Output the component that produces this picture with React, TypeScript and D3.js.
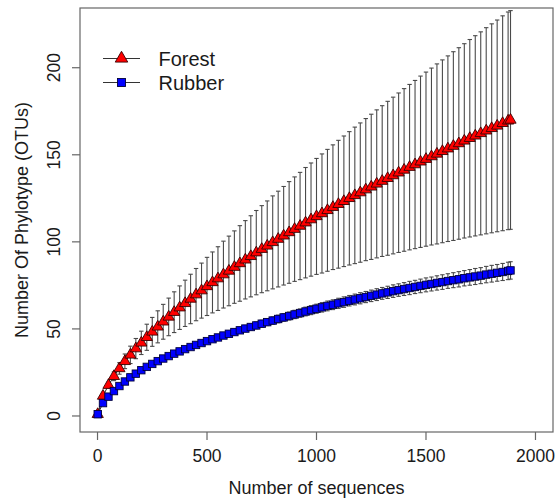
import React from "react";
import * as d3 from "d3";

const seqCounts = [
  1, 25, 50, 75, 100, 125, 150, 175, 200, 225, 250, 275, 300, 325, 350, 375, 400, 425, 450, 475,
  500, 525, 550, 575, 600, 625, 650, 675, 700, 725, 750, 775, 800, 825, 850, 875, 900, 925, 950, 975,
  1000, 1025, 1050, 1075, 1100, 1125, 1150, 1175, 1200, 1225, 1250, 1275, 1300, 1325, 1350, 1375,
  1400, 1425, 1450, 1475, 1500, 1525, 1550, 1575, 1600, 1625, 1650, 1675, 1700, 1725, 1750, 1775,
  1800, 1825, 1850, 1875, 1886,
];

const forestMean = [
  1, 11.5, 17.7, 22.8, 27.3, 31.4, 35.1, 38.7, 42.0, 45.2, 48.3, 51.2, 54.1, 56.9, 59.6, 62.2, 64.7,
  67.2, 69.7, 72.0, 74.4, 76.7, 78.9, 81.2, 83.3, 85.5, 87.6, 89.7, 91.7, 93.8, 95.8, 97.7, 99.7,
  101.6, 103.5, 105.4, 107.3, 109.1, 111.0, 112.8, 114.6, 116.3, 118.1, 119.9, 121.6, 123.3, 125.0,
  126.7, 128.3, 130.0, 131.6, 133.3, 134.9, 136.5, 138.1, 139.7, 141.3, 142.9, 144.4, 146.0, 147.5,
  149.0, 150.5, 152.0, 153.5, 155.0, 156.5, 158.0, 159.5, 160.9, 162.3, 163.8, 165.2, 166.6, 168.1,
  169.5, 170.0,
];

const forestSd = [
  0, 0.8, 1.7, 2.5, 3.3, 4.2, 5.0, 5.8, 6.7, 7.5, 8.3, 9.2, 10.0, 10.8, 11.7, 12.5, 13.3, 14.2, 15.0,
  15.8, 16.7, 17.5, 18.3, 19.2, 20.0, 20.8, 21.7, 22.5, 23.3, 24.2, 25.0, 25.8, 26.7, 27.5, 28.3, 29.2,
  30.0, 30.8, 31.7, 32.5, 33.3, 34.2, 35.0, 35.8, 36.7, 37.5, 38.3, 39.2, 40.0, 40.8, 41.7, 42.5, 43.3,
  44.2, 45.0, 45.8, 46.7, 47.5, 48.3, 49.2, 50.0, 50.8, 51.7, 52.5, 53.3, 54.2, 55.0, 55.8, 56.7, 57.5,
  58.3, 59.2, 60.0, 60.8, 61.7, 62.5, 62.8,
];

const rubberMean = [
  1, 7.4, 11.1, 14.3, 17.2, 19.8, 22.2, 24.3, 26.3, 28.2, 29.9, 31.5, 33.0, 34.4, 35.8, 37.1, 38.4,
  39.6, 40.8, 41.9, 43.0, 44.1, 45.1, 46.2, 47.2, 48.2, 49.2, 50.2, 51.1, 52.0, 53.0, 53.9, 54.8, 55.7,
  56.6, 57.4, 58.3, 59.1, 60.0, 60.8, 61.6, 62.4, 63.2, 63.9, 64.7, 65.4, 66.2, 66.9, 67.6, 68.3, 69.0,
  69.7, 70.4, 71.0, 71.7, 72.3, 72.9, 73.5, 74.1, 74.7, 75.3, 75.8, 76.4, 76.9, 77.5, 78.0, 78.5, 79.1,
  79.6, 80.1, 80.6, 81.2, 81.7, 82.2, 82.7, 83.3, 83.6,
];

const rubberSd = [
  0, 0.1, 0.1, 0.2, 0.3, 0.3, 0.4, 0.5, 0.5, 0.6, 0.7, 0.7, 0.8, 0.9, 0.9, 1.0, 1.1, 1.1, 1.2, 1.3,
  1.3, 1.4, 1.5, 1.5, 1.6, 1.7, 1.7, 1.8, 1.8, 1.9, 2.0, 2.0, 2.1, 2.2, 2.2, 2.3, 2.4, 2.4, 2.5, 2.6,
  2.6, 2.7, 2.8, 2.8, 2.9, 3.0, 3.0, 3.1, 3.2, 3.2, 3.3, 3.4, 3.4, 3.5, 3.6, 3.6, 3.7, 3.8, 3.8, 3.9,
  4.0, 4.0, 4.1, 4.2, 4.2, 4.3, 4.4, 4.4, 4.5, 4.6, 4.6, 4.7, 4.8, 4.8, 4.9, 5.0, 5.0,
];

const xTicks = [0, 500, 1000, 1500, 2000];
const yTicks = [0, 50, 100, 150, 200];
const seriesNames = ["Forest", "Rubber"];
const xTitle = "Number of sequences";
const yTitle = "Number Of Phylotype (OTUs)";

const FONT = "'Liberation Sans', Arial, Helvetica, sans-serif";

function triPath(cx: number, cy: number, w: number) {
  const r = w / Math.sqrt(3);
  return `M${cx},${cy - r}L${cx + w / 2},${cy + r / 2}L${cx - w / 2},${cy + r / 2}Z`;
}

export default function App() {
  const W = 556;
  const H = 498;
  const left = 80, right = 553, top = 8, bottom = 432;
  const x = d3.scaleLinear().domain([-80, 2080]).range([left, right]);
  const y = d3.scaleLinear().domain([-9.2, 234.3]).range([bottom, top]);

  const n = Math.min(seqCounts.length, forestMean.length, rubberMean.length);
  const idx = d3.range(n);

  const forestLine = d3.line<number>().x((i) => x(seqCounts[i])).y((i) => y(forestMean[i]))(idx) || "";
  const rubberLine = d3.line<number>().x((i) => x(seqCounts[i])).y((i) => y(rubberMean[i]))(idx) || "";

  const cap = 2.2;
  const barColor = "#4a4a4a";

  const errBars = (mean: number[], sd: number[], key: string) =>
    idx.map((i) => {
      const cx = x(seqCounts[i]);
      const y0 = y(mean[i] - (sd[i] || 0));
      const y1 = y(mean[i] + (sd[i] || 0));
      return (
        <g key={key + i} stroke={barColor} strokeWidth={1.1} fill="none">
          <line x1={cx} x2={cx} y1={y0} y2={y1} />
          <line x1={cx - cap} x2={cx + cap} y1={y0} y2={y0} />
          <line x1={cx - cap} x2={cx + cap} y1={y1} y2={y1} />
        </g>
      );
    });

  const sq = 7.4;
  const triW = 11.2;

  return (
    <svg
      width={W}
      height={H}
      style={{ position: "fixed", left: 0, top: 0, background: "#fff" }}
      fontFamily={FONT}
    >
      <rect x={0} y={0} width={W} height={H} fill="#fff" />

      {/* Forest */}
      <path d={forestLine} fill="none" stroke="#222" strokeWidth={1} />
      {errBars(forestMean, forestSd, "fe")}
      {idx.map((i) => (
        <path
          key={"ft" + i}
          d={triPath(x(seqCounts[i]), y(forestMean[i]), triW)}
          fill="#ff0000"
          stroke="#3a0000"
          strokeWidth={0.9}
        />
      ))}

      {/* Rubber */}
      <path d={rubberLine} fill="none" stroke="#222" strokeWidth={1} />
      {errBars(rubberMean, rubberSd, "re")}
      {idx.map((i) => (
        <rect
          key={"rs" + i}
          x={x(seqCounts[i]) - sq / 2}
          y={y(rubberMean[i]) - sq / 2}
          width={sq}
          height={sq}
          fill="#0000ff"
          stroke="#00003a"
          strokeWidth={0.9}
        />
      ))}

      {/* Box */}
      <rect x={left} y={top} width={right - left} height={bottom - top} fill="none" stroke="#666" strokeWidth={1.2} />

      {/* X axis */}
      {xTicks.map((t) => (
        <g key={"xt" + t}>
          <line x1={x(t)} x2={x(t)} y1={bottom} y2={bottom + 8} stroke="#666" strokeWidth={1.2} />
          <text x={x(t)} y={461.5} textAnchor="middle" fontSize={17.5} fill="#1a1a1a">
            {t}
          </text>
        </g>
      ))}
      <text x={(left + right) / 2} y={494} textAnchor="middle" fontSize={18} fill="#1a1a1a">
        {xTitle}
      </text>

      {/* Y axis */}
      {yTicks.map((t) => (
        <g key={"yt" + t}>
          <line x1={left - 8} x2={left} y1={y(t)} y2={y(t)} stroke="#666" strokeWidth={1.2} />
          <text
            transform={`translate(60,${y(t)}) rotate(-90)`}
            textAnchor="middle"
            fontSize={17.5}
            fill="#1a1a1a"
          >
            {t}
          </text>
        </g>
      ))}
      <text
        transform={`translate(28,${(top + bottom) / 2}) rotate(-90)`}
        textAnchor="middle"
        fontSize={18}
        fill="#1a1a1a"
      >
        {yTitle}
      </text>

      {/* Legend */}
      <g>
        <line x1={103} x2={140} y1={58.5} y2={58.5} stroke="#333" strokeWidth={1} />
        <path d={triPath(121.5, 58.5, 12.5)} fill="#ff0000" stroke="#3a0000" strokeWidth={0.9} />
        <text x={158.5} y={65.5} fontSize={20} fill="#1a1a1a">
          {seriesNames[0]}
        </text>
        <line x1={103} x2={140} y1={82.5} y2={82.5} stroke="#333" strokeWidth={1} />
        <rect x={121.5 - 4} y={82.5 - 4} width={8} height={8} fill="#0000ff" stroke="#00003a" strokeWidth={0.9} />
        <text x={158.5} y={90} fontSize={20} fill="#1a1a1a">
          {seriesNames[1]}
        </text>
      </g>
    </svg>
  );
}
